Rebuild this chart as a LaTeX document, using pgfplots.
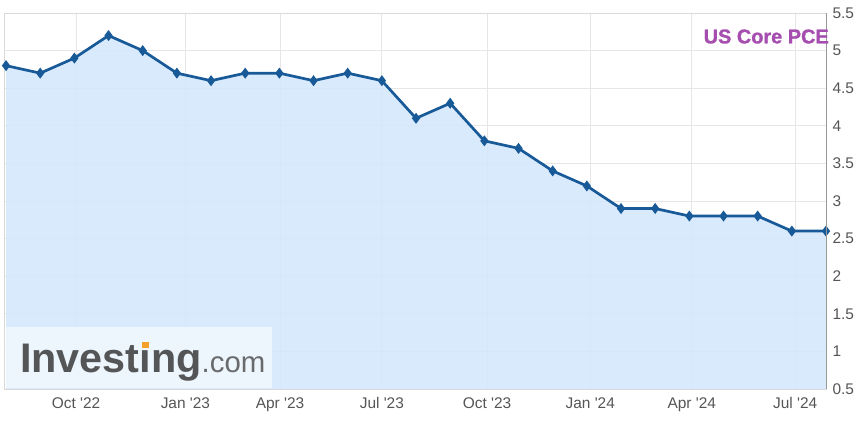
\documentclass[border=0pt]{standalone}
\usepackage{pgfplots}
\pgfplotsset{compat=1.18}
\usepackage{pgfplotstable}
\usepackage{fontspec}
\setmainfont{Liberation Sans}
\newfontfamily\titlefont[BoldFeatures={FakeBold=1.2}]{Liberation Sans}
\definecolor{linec}{RGB}{24,90,152}
\definecolor{fillc}{RGB}{212,232,252}
\definecolor{gridc}{RGB}{230,230,230}
\definecolor{titlec}{RGB}{166,78,176}
\definecolor{tickc}{RGB}{85,85,85}
\definecolor{logoc}{RGB}{84,85,87}
\definecolor{logol}{RGB}{105,106,108}
\definecolor{logoo}{RGB}{245,160,40}
\pgfplotstableread{
x y
0 4.8
1 4.7
2 4.9
3 5.2
4 5.0
5 4.7
6 4.6
7 4.7
8 4.7
9 4.6
10 4.7
11 4.6
12 4.1
13 4.3
14 3.8
15 3.7
16 3.4
17 3.2
18 2.9
19 2.9
20 2.8
21 2.8
22 2.8
23 2.6
24 2.6
}\pce
\begin{document}
\begin{tikzpicture}
\path[use as bounding box] (-4bp,-36bp) rectangle (861bp,389bp);
\begin{axis}[
  at={(0,0)}, anchor=south west,
  scale only axis, width=822bp, height=376bp,
  xmin=-0.06, xmax=24, ymin=0.5, ymax=5.5,
  ytick={0.5,1,1.5,2,2.5,3,3.5,4,4.5,5,5.5},
  yticklabel pos=right,
  xtick={2.05,5.25,8.02,11.0,14.08,17.1,20.07,23.1},
  xticklabels={Oct \textquotesingle22,Jan \textquotesingle23,Apr \textquotesingle23,Jul \textquotesingle23,Oct \textquotesingle23,Jan \textquotesingle24,Apr \textquotesingle24,Jul \textquotesingle24},
  grid=major, grid style={gridc, line width=0.8bp},
  major tick length=0,
  axis line style={draw=black!15, line width=0.8bp},
  tick label style={font=\fontsize{15.5}{15.5}\selectfont, text=tickc},
  /pgf/number format/assume math mode=true,
  yticklabel style={anchor=west, xshift=3bp},
  xticklabel style={yshift=-5bp},
]
\addplot[draw=none, fill=fillc, fill opacity=0.9] table[x=x,y=y] {\pce} \closedcycle;
\addplot[linec, line width=2.7bp, mark=diamond*, mark size=3.3bp, mark options={fill=linec}] table[x=x,y=y] {\pce};
\end{axis}
\draw[black!40, line width=0.8bp] (822bp,0) -- (822bp,376bp);
\fill[white, opacity=0.55] (1bp,1bp) rectangle (268bp,62bp);
\node[anchor=base west, inner sep=0, text=logoc] at (16bp,17bp)
  {\fontsize{41.5}{41.5}\selectfont\bfseries Invest\makebox[0pt][l]{\hspace{0.065em}\raisebox{0.575em}{\color{logoo}\rule{0.15em}{0.14em}}}ıng\fontsize{29.5}{29.5}\mdseries\color{logol}.com};
\node[anchor=east, inner sep=0, text=titlec] at (825bp,352.5bp)
  {\titlefont\fontsize{20}{20}\selectfont\bfseries US Core PCE};
\end{tikzpicture}
\end{document}
